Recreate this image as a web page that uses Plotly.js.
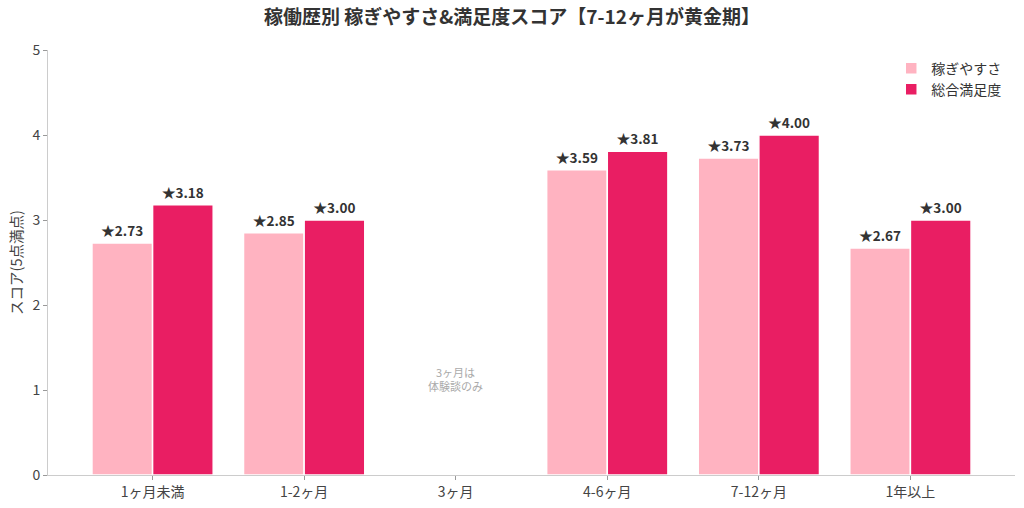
<!DOCTYPE html>
<html>
<head>
<meta charset="utf-8">
<script src="https://cdn.plot.ly/plotly-3.0.1.min.js"></script>
<style>
  html, body { margin: 0; padding: 0; background: #fff; }
  #chart { width: 1024px; height: 508px; }
</style>
</head>
<body>
<div id="chart"></div>
<script>
// categories and scores (null = no data for that period)
let categories = ["1ヶ月未満", "1-2ヶ月", "3ヶ月", "4-6ヶ月", "7-12ヶ月", "1年以上"];
let earnScores = [2.73, 2.85, null, 3.59, 3.73, 2.67];
let totalScores = [3.18, 3.00, null, 3.81, 4.00, 3.00];
let seriesNames = ["稼ぎやすさ", "総合満足度"];
let noteText = "3ヶ月は<br>体験談のみ";

let font = "Noto Sans CJK JP, Noto Sans, sans-serif";

function labels(vals) {
  return vals.map(v => v === null ? "" : "★" + v.toFixed(2));
}

let trace1 = {
  type: "bar",
  name: seriesNames[0],
  x: categories,
  y: earnScores,
  text: labels(earnScores),
  textposition: "outside",
  textfont: { family: font, size: 13.5, color: "#333", weight: "bold" },
  cliponaxis: false,
  marker: { color: "#FFB3C1", line: { color: "#fff", width: 1.5 } },
  hoverinfo: "x+y"
};

let trace2 = {
  type: "bar",
  name: seriesNames[1],
  x: categories,
  y: totalScores,
  text: labels(totalScores),
  textposition: "outside",
  textfont: { family: font, size: 13.5, color: "#333", weight: "bold" },
  cliponaxis: false,
  marker: { color: "#E91E63", line: { color: "#fff", width: 1.5 } },
  hoverinfo: "x+y"
};

let layout = {
  width: 1024,
  height: 508,
  margin: { l: 48, r: 9, t: 50, b: 33 },
  paper_bgcolor: "#fff",
  plot_bgcolor: "#fff",
  font: { family: font, color: "#444", size: 14 },
  title: {
    text: "<b>稼働歴別 稼ぎやすさ&満足度スコア【7-12ヶ月が黄金期】</b>",
    font: { family: font, size: 19, color: "#333" },
    x: 0.5, xanchor: "center", y: 0.965, yanchor: "middle"
  },
  barmode: "group",
  bargap: 0.2,
  bargroupgap: 0,
  showlegend: true,
  legend: {
    x: 0.872, xanchor: "left", y: 0.994, yanchor: "top",
    bgcolor: "rgba(255,255,255,0)",
    font: { family: font, size: 14, color: "#333" },
    tracegroupgap: 2
  },
  xaxis: {
    type: "category",
    range: [-0.69, 5.69],
    showline: true, linecolor: "#ccc", linewidth: 1,
    ticks: "outside", ticklen: 4, tickcolor: "#999",
    showgrid: false, zeroline: false,
    tickfont: { family: font, size: 14, color: "#444" }
  },
  yaxis: {
    range: [0, 5],
    dtick: 1,
    showline: true, linecolor: "#ccc", linewidth: 1,
    ticks: "outside", ticklen: 4, tickcolor: "#999",
    showgrid: false, zeroline: false,
    tickfont: { family: font, size: 14, color: "#444" },
    title: { text: "スコア(5点満点)", font: { family: font, size: 14.5, color: "#444" }, standoff: 6 }
  },
  annotations: [{
    x: categories[2], y: 1.13, xref: "x", yref: "y",
    text: noteText, showarrow: false,
    font: { family: font, size: 11, color: "#aaa" },
    align: "center"
  }]
};

Plotly.newPlot("chart", [trace1, trace2], layout, { displayModeBar: false, staticPlot: true });
</script>
</body>
</html>
